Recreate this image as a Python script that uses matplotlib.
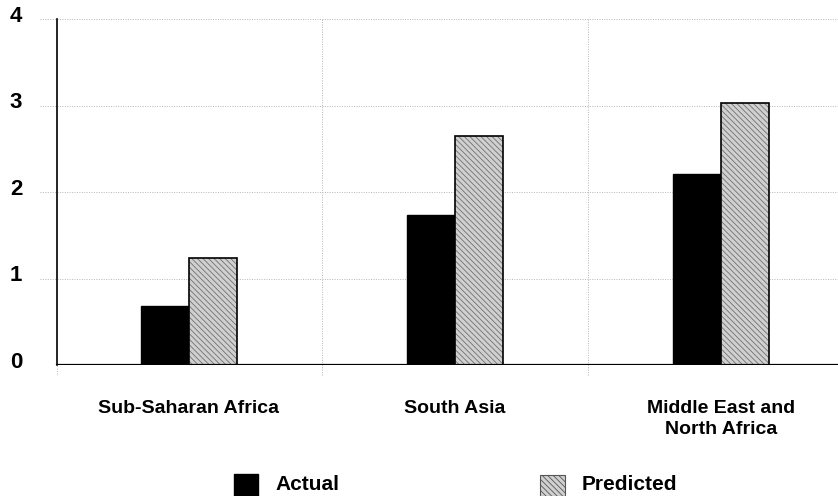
import matplotlib
matplotlib.use("Agg")
import matplotlib.pyplot as plt
import numpy as np

# --- DATA ---
regions = ["Sub-Saharan Africa", "South Asia", "Middle East and\nNorth Africa"]
actual = [0.68, 1.73, 2.21]
predicted = [1.24, 2.65, 3.03]
y_ticks = [0, 1, 2, 3, 4]
series_names = ["Actual", "Predicted"]

plt.rcParams["font.family"] = ["Liberation Sans", "DejaVu Sans"]
plt.rcParams["hatch.linewidth"] = 0.6

fig = plt.figure(figsize=(8.38, 4.96), dpi=100)
ax = fig.add_axes([40 / 838, 131 / 496, 798 / 838, 346 / 496])

x = np.arange(len(regions))
w = 0.18
grid_kw = dict(color="#b5b5b5", linestyle=(0, (1, 1.5)), linewidth=0.7)

# grid lines and dividers
for yv in y_ticks[1:]:
    ax.axhline(yv, **grid_kw, zorder=1)
ax.axhline(0, **grid_kw, zorder=1)
ax.plot([-0.496, 2.44], [0, 0], color="black", linewidth=1.6, zorder=4)
ax.plot([-0.496, -0.496], [0, 4], color="black", linewidth=1.2, zorder=4, clip_on=False)
ax.plot([-0.496, -0.496], [-0.1, 0], **grid_kw, clip_on=False)
for xv in [0.5, 1.5]:
    ax.plot([xv, xv], [-0.12, 4], **grid_kw, clip_on=False, zorder=1)

# bars
ax.bar(x - w / 2, actual, w, color="black", edgecolor="black", linewidth=1, zorder=3)
ax.bar(x + w / 2, predicted, w, color="#d0d0d0", edgecolor="#707070", hatch="\\\\\\\\\\\\",
       linewidth=0, zorder=3)
ax.bar(x + w / 2, predicted, w, fill=False, edgecolor="black", linewidth=1.2, zorder=3)

ax.set_xlim(-0.56, 2.44)
ax.set_ylim(0, 4)
for s in ax.spines.values():
    s.set_visible(False)
ax.set_xticks([])
ax.set_yticks([])

# y tick labels
for yv in y_ticks:
    ax.text(-0.65, yv + 0.03, str(yv), ha="center", va="center", fontsize=16,
            fontweight="bold", clip_on=False)

# category labels
for i, name in enumerate(regions):
    ax.text(x[i], -0.41, name, ha="center", va="top", fontsize=14,
            fontweight="bold", linespacing=1.3, clip_on=False)

# legend (sits on the bottom edge)
trans = fig.transFigure
fig.patches.append(plt.Rectangle((234 / 838, 0), 24 / 838, 22 / 496,
                                 transform=trans, facecolor="black", edgecolor="black"))
fig.patches.append(plt.Rectangle((540 / 838, 0), 25 / 838, 21 / 496,
                                 transform=trans, facecolor="#d0d0d0", edgecolor="#555555",
                                 hatch="\\\\\\\\\\\\", linewidth=0.8))
fig.text(275 / 838, 1 - 485 / 496, series_names[0], ha="left", va="center", fontsize=15,
         fontweight="bold")
fig.text(582 / 838, 1 - 485 / 496, series_names[1], ha="left", va="center", fontsize=15,
         fontweight="bold")

fig.savefig("out.png", dpi=100)
